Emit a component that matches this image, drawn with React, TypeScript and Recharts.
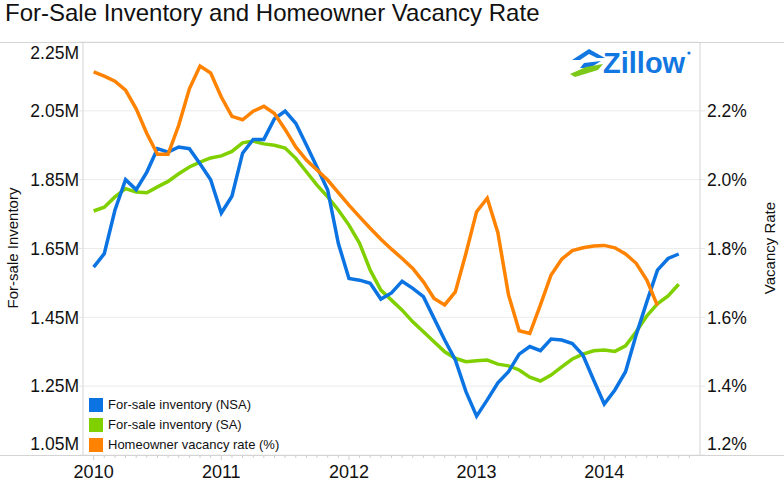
import { LineChart, Line, XAxis, YAxis, CartesianGrid } from "recharts";

// month index 0 = Jan 2010
const months = Array.from({ length: 56 }, (_, i) => i);

// for-sale inventory, millions
const nsaInventory = [
  1.596, 1.635, 1.761, 1.85, 1.821, 1.872, 1.94, 1.93, 1.945, 1.94, 1.896, 1.85,
  1.753, 1.802, 1.927, 1.967, 1.967, 2.027, 2.049, 2.014, 1.951, 1.886, 1.82, 1.665,
  1.563, 1.558, 1.549, 1.503, 1.521, 1.555, 1.534, 1.51, 1.447, 1.384, 1.326, 1.234,
  1.163, 1.21, 1.26, 1.292, 1.343, 1.365, 1.353, 1.387, 1.384, 1.374, 1.34, 1.268,
  1.198, 1.239, 1.292, 1.399, 1.495, 1.587, 1.621, 1.634,
];
const saInventory = [
  1.759, 1.77, 1.8, 1.824, 1.814, 1.812, 1.829, 1.845, 1.867, 1.887, 1.901, 1.913,
  1.919, 1.932, 1.957, 1.962, 1.954, 1.95, 1.942, 1.912, 1.873, 1.834, 1.8, 1.762,
  1.718, 1.665, 1.587, 1.529, 1.5, 1.471, 1.437, 1.408, 1.379, 1.35, 1.331, 1.321,
  1.324, 1.326, 1.314, 1.309, 1.297, 1.276, 1.265, 1.282, 1.306, 1.329, 1.343, 1.353,
  1.355, 1.351, 1.367, 1.408, 1.454, 1.489, 1.512, 1.546,
];
// homeowner vacancy rate, percent
const vacancyRate = [
  2.313, 2.301, 2.286, 2.26, 2.206, 2.134, 2.074, 2.074, 2.158, 2.264, 2.33, 2.31,
  2.24, 2.184, 2.174, 2.199, 2.213, 2.192, 2.146, 2.095, 2.057, 2.028, 1.999, 1.962,
  1.926, 1.892, 1.859, 1.827, 1.798, 1.771, 1.742, 1.703, 1.655, 1.636, 1.674, 1.786,
  1.907, 1.946, 1.846, 1.665, 1.561, 1.553, 1.636, 1.723, 1.769, 1.794, 1.802, 1.807,
  1.809, 1.802, 1.784, 1.757, 1.708, 1.634,
];

const years = ["2010", "2011", "2012", "2013", "2014"];
const inventoryTicks = [1.05, 1.25, 1.45, 1.65, 1.85, 2.05, 2.25];
const rateTicks = [1.2, 1.4, 1.6, 1.8, 2.0, 2.2];

const seriesNames = [
  "For-sale inventory (NSA)",
  "For-sale inventory (SA)",
  "Homeowner vacancy rate (%)",
];
const colors = ["#0b74e2", "#80d000", "#ff8300"];

const data = months.map((m, i) => ({
  m,
  nsa: nsaInventory[i],
  sa: saInventory[i],
  vac: vacancyRate[i] ?? null,
}));

const FONT = '"Liberation Sans", Arial, sans-serif';
const TOP = 42;
const BOTTOM = 455;

function YTick(props: any) {
  const { x, y, payload, textAnchor, fmt } = props;
  const cy = Math.min(Math.max(y, TOP + 11), BOTTOM - 11);
  return (
    <text x={x} y={cy} dy="0.36em" textAnchor={textAnchor} fontSize={17.5} fill="#111" fontFamily={FONT}>
      {fmt(payload.value)}
    </text>
  );
}

function XTick(props: any) {
  const { x, payload } = props;
  const m = payload.value;
  const isYear = m % 12 === 0;
  return (
    <g>
      <line x1={x} x2={x} y1={BOTTOM} y2={BOTTOM + (isYear ? 5 : 3)} stroke="#cfcfcf" />
      {isYear && (
        <text x={x} y={BOTTOM + 10} dy="0.72em" textAnchor="middle" fontSize={18} fill="#111" fontFamily={FONT}>
          {years[m / 12]}
        </text>
      )}
    </g>
  );
}

export default function App() {
  return (
    <div style={{ position: "relative", width: 784, height: 484, fontFamily: FONT, background: "#fff" }}>
      <style>{`body{margin:0}`}</style>
      <div style={{ position: "absolute", left: 5, top: -1, fontSize: 24, color: "#111", whiteSpace: "nowrap" }}>
        For-Sale Inventory and Homeowner Vacancy Rate
      </div>
      <LineChart width={784} height={484} data={data} margin={{ top: TOP, right: 0, bottom: 0, left: 0 }}>
        <CartesianGrid yAxisId="left" vertical={false} stroke="#ebebeb" />
        <XAxis
          dataKey="m"
          type="number"
          domain={[-1, 57]}
          ticks={months.concat([56])}
          interval={0}
          height={29}
          axisLine={false}
          tickLine={false}
          tickSize={0}
          tick={<XTick />}
        />
        <YAxis
          yAxisId="left"
          width={83}
          domain={[1.05, 2.25]}
          ticks={inventoryTicks}
          interval={0}
          stroke="#d4d4d4"
          tickLine={{ stroke: "#e6e6e6" }}
          tickSize={4}
          tickMargin={0}
          tick={<YTick fmt={(v: number) => `${v.toFixed(2)}M`} />}
        />
        <YAxis
          yAxisId="right"
          orientation="right"
          width={84}
          domain={[1.2, 2.4]}
          ticks={rateTicks}
          interval={0}
          stroke="#d4d4d4"
          tickLine={{ stroke: "#e6e6e6" }}
          tickSize={5}
          tickMargin={2}
          tick={<YTick fmt={(v: number) => `${v.toFixed(1)}%`} />}
        />
        <Line yAxisId="left" dataKey="sa" name={seriesNames[1]} type="linear" stroke={colors[1]} strokeWidth={3.5} dot={false} isAnimationActive={false} />
        <Line yAxisId="left" dataKey="nsa" name={seriesNames[0]} type="linear" stroke={colors[0]} strokeWidth={3.5} dot={false} isAnimationActive={false} />
        <Line yAxisId="right" dataKey="vac" name={seriesNames[2]} type="linear" stroke={colors[2]} strokeWidth={3.5} dot={false} isAnimationActive={false} connectNulls={false} />
      </LineChart>
      <svg width={784} height={484} style={{ position: "absolute", left: 0, top: 0, pointerEvents: "none" }}>
        <line x1={0} x2={784} y1={TOP + 0.5} y2={TOP + 0.5} stroke="#d4d4d4" />
        <line x1={0} x2={784} y1={BOTTOM + 0.5} y2={BOTTOM + 0.5} stroke="#d4d4d4" />
        <text transform="translate(13,248) rotate(-90)" textAnchor="middle" dy="0.35em" fontSize={15} fill="#111" fontFamily={FONT}>
          For-sale Inventory
        </text>
        <text transform="translate(770,248) rotate(-90)" textAnchor="middle" dy="0.35em" fontSize={15} fill="#111" fontFamily={FONT}>
          Vacancy Rate
        </text>
        {/* zillow mark */}
        <polygon points="572,60 589,49 605,58 597,58 589,54 580,60" fill="#1277e1" />
        <polygon points="584,63 601,61 590,68 580,68" fill="#1277e1" />
        <polygon points="570,74 586,67 603,64 598,70 575,77" fill="#7cc91a" />
        <text x={603} y={73} fontSize={29} fontWeight="bold" fill="#1277e1" fontFamily={FONT}>Zillow</text>
        <circle cx={689} cy={53} r={1.6} fill="#1277e1" />
      </svg>
      <div style={{ position: "absolute", left: 89, top: 395, fontSize: 13, color: "#111", lineHeight: "20px" }}>
        {seriesNames.map((n, i) => (
          <div key={n} style={{ display: "flex", alignItems: "center", height: 20 }}>
            <span style={{ width: 14, height: 14, background: colors[i], marginRight: 5, display: "inline-block" }} />
            {n}
          </div>
        ))}
      </div>
    </div>
  );
}
